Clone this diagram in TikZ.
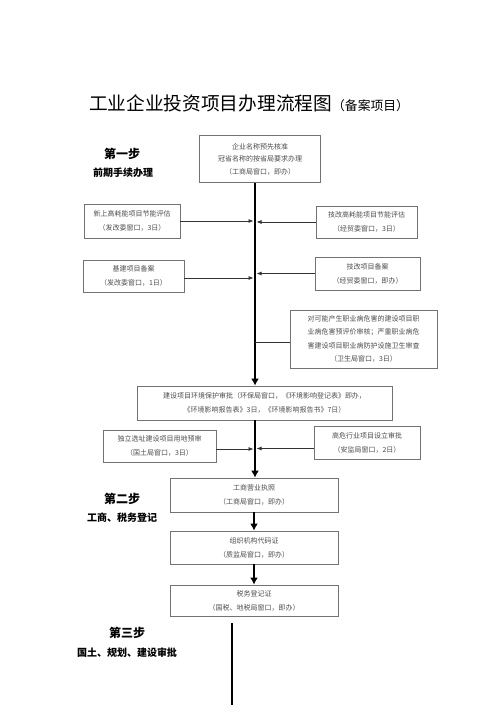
\documentclass[tikz,border=0pt]{standalone}
\usepackage{fontspec}
\setmainfont{Noto Sans CJK SC}
\usetikzlibrary{arrows.meta}
\begin{document}
\begin{tikzpicture}[x=1pt,y=-1pt,
        procbox/.style={draw=black!55, line width=0.8pt, align=center, inner sep=0pt,
            text=black!70, font=\fontsize{7}{14}\selectfont},
        steptitle/.style={font=\bfseries\fontsize{12}{14}\selectfont},
        stepsub/.style={font=\bfseries\fontsize{10}{12}\selectfont},
        sidearrow/.style={-{Latex[length=5pt,width=4pt]}, line width=0.7pt, black!80, shorten >=1.5pt},
        mainline/.style={line width=2.8pt},
        mainarrow/.style={-{Latex[length=7pt,width=8pt]}, line width=2.8pt}]
    \useasboundingbox (0,0) rectangle (500,707);
    \coordinate (spine) at (255,0);

    \node (title) at (249,103) {\fontsize{18.7}{20}\selectfont 工业企业投资项目办理流程图{\fontsize{12.8}{14}\selectfont（备案项目）}};

    \node[steptitle] (step1) at (122,154) {第一步};
    \node[stepsub] (step1sub) at (123,173) {前期手续办理};
    \node[steptitle] (step2) at (122,499) {第二步};
    \node[stepsub] (step2sub) at (122,518) {工商、税务登记};
    \node[steptitle] (step3) at (127,633) {第三步};
    \node[stepsub] (step3sub) at (127,653) {国土、规划、建设审批};

    \node[procbox, minimum width=121, minimum height=47, font=\fontsize{7}{12.5}\selectfont] (namecheck) at (260,159)
        {企业名称预先核准\\冠省名称的按省局要求办理\\（工商局窗口，即办）};
    \node[procbox, minimum width=96, minimum height=34] (newenergy) at (132,221)
        {新上高耗能项目节能评估\\（发改委窗口，3日）};
    \node[procbox, minimum width=101, minimum height=32] (techenergy) at (366.5,222)
        {技改高耗能项目节能评估\\（经贸委窗口，3日）};
    \node[procbox, minimum width=101, minimum height=32] (buildrec) at (133.5,276)
        {基建项目备案\\（发改委窗口，1日）};
    \node[procbox, minimum width=105, minimum height=33] (techrec) at (367.5,273.5)
        {技改项目备案\\（经贸委窗口，即办）};
    \node[procbox, minimum width=147, minimum height=58, font=\fontsize{7}{13.3}\selectfont] (occup) at (363.5,339)
        {对可能产生职业病危害的建设项目职\\业病危害预评价审核；严重职业病危\\害建设项目职业病防护设施卫生审查\\（卫生局窗口，3日）};
    \node[procbox, minimum width=255, minimum height=34] (envir) at (264.5,403)
        {建设项目环境保护审批（环保局窗口，《环境影响登记表》即办，\\《环境影响报告表》3日，《环境影响报告书》7日）};
    \node[procbox, minimum width=113, minimum height=32] (landuse) at (159.5,446)
        {独立选址建设项目用地预审\\（国土局窗口，3日）};
    \node[procbox, minimum width=106, minimum height=33] (hazard) at (367,442.5)
        {高危行业项目设立审批\\（安监局窗口，2日）};
    \node[procbox, minimum width=168, minimum height=34] (license) at (254,495)
        {工商营业执照\\（工商局窗口，即办）};
    \node[procbox, minimum width=168, minimum height=33] (orgcode) at (254,547.5)
        {组织机构代码证\\（质监局窗口，即办）};
    \node[procbox, minimum width=168, minimum height=31] (taxreg) at (254,600.5)
        {税务登记证\\（国税、地税局窗口，即办）};

    \draw[mainarrow] (namecheck.south -| spine) -- (envir.north -| spine);
    \draw[mainarrow] (envir.south -| spine) -- (license.north -| spine);
    \draw[mainarrow] (license.south) -- (orgcode.north);
    \draw[mainarrow] (orgcode.south) -- (taxreg.north);

    \draw[sidearrow] (newenergy.east) -- (newenergy.east -| spine);
    \draw[sidearrow] (techenergy.west) -- (techenergy.west -| spine);
    \draw[sidearrow] ([yshift=-2pt]buildrec.east) -- ([yshift=-2pt]buildrec.east -| spine);
    \draw[sidearrow] (techrec.west) -- (techrec.west -| spine);
    \draw[line width=0.7pt, black!80] ([yshift=-3pt]occup.west) -- ([yshift=-3pt]occup.west -| spine);
    \draw[sidearrow] ([yshift=-3pt]landuse.east) -- ([yshift=-3pt]landuse.east -| spine);
    \draw[sidearrow] ([yshift=-6pt]hazard.west) -- ([yshift=-6pt]hazard.west -| spine);

    \coordinate (tailtop) at (232,623);
    \coordinate (tailend) at (232,705);
    \draw[mainline] (tailtop) -- (tailend);
\end{tikzpicture}
\end{document}
